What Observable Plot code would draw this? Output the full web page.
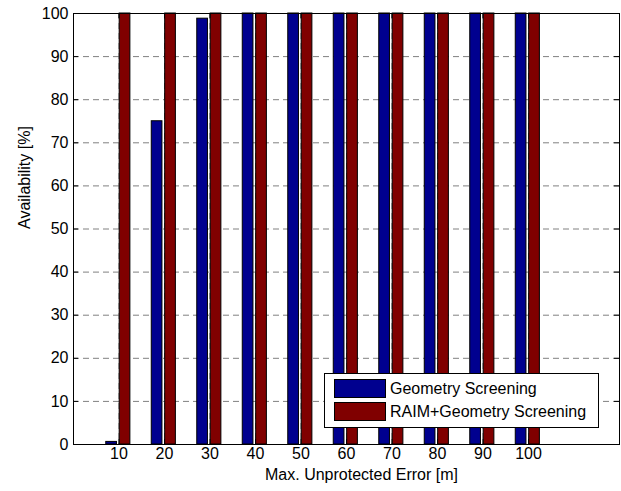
<!DOCTYPE html>
<html>
<head>
<meta charset="utf-8">
<script src="https://cdn.jsdelivr.net/npm/d3@7"></script>
<script src="https://cdn.jsdelivr.net/npm/@observablehq/plot@0.6"></script>
<style>
  html, body { margin: 0; padding: 0; background: #fff; }
  #chart { width: 621px; height: 491px; }
</style>
</head>
<body>
<div id="chart"></div>
<script>
const categories = [10, 20, 30, 40, 50, 60, 70, 80, 90, 100];
const geometryScreening = [0.6, 75, 98.8, 100, 100, 100, 100, 100, 100, 100];
const raimGeometryScreening = [100, 100, 100, 100, 100, 100, 100, 100, 100, 100];
const yTicks = [0, 10, 20, 30, 40, 50, 60, 70, 80, 90, 100];
const seriesNames = ["Geometry Screening", "RAIM+Geometry Screening"];
const seriesColors = ["#00008f", "#800000"];
const xLabel = "Max. Unprotected Error [m]";
const yLabel = "Availability [%]";

const geoData = categories.map((c, i) => ({x: c, v: geometryScreening[i]}));
const raimData = categories.map((c, i) => ({x: c, v: raimGeometryScreening[i]}));

const font = "'Liberation Sans', Arial, Helvetica, sans-serif";
const gridStyle = {stroke: "#808080", strokeWidth: 1, strokeDasharray: "6,4"};

const chart = Plot.plot({
  width: 621,
  height: 491,
  marginLeft: 73,
  marginRight: 2,
  marginTop: 13,
  marginBottom: 47,
  style: {fontFamily: font, fontSize: "16px", color: "#000", background: "#fff", overflow: "visible"},
  x: {type: "linear", domain: [0, 120], axis: null},
  y: {domain: [0, 100], axis: null},
  marks: [
    Plot.ruleY(yTicks.slice(1, -1), gridStyle),
    Plot.ruleX(categories, gridStyle),
    Plot.rectY(geoData, {x1: d => d.x - 2.8, x2: d => d.x - 0.45, y1: 0, y2: "v", fill: seriesColors[0], stroke: "#000", strokeWidth: 1}),
    Plot.rectY(raimData, {x1: d => d.x + 0.15, x2: d => d.x + 2.5, y1: 0, y2: "v", fill: seriesColors[1], stroke: "#000", strokeWidth: 1}),
    Plot.frame({stroke: "#000", strokeWidth: 1}),
    // inward ticks, bottom and top
    Plot.ruleX(categories, {y1: 0, y2: 0, insetTop: -5, stroke: "#000"}),
    Plot.ruleX(categories, {y1: 100, y2: 100, insetBottom: -5, stroke: "#000"}),
    // inward ticks, left and right
    Plot.ruleY(yTicks, {x1: 0, x2: 0, insetRight: -5, stroke: "#000"}),
    Plot.ruleY(yTicks, {x1: 120, x2: 120, insetLeft: -5, stroke: "#000"}),
    // tick labels
    Plot.text(categories, {x: d => d, frameAnchor: "bottom", dy: 14, text: d => String(d), fill: "#000"}),
    Plot.text(yTicks, {y: d => d, frameAnchor: "left", textAnchor: "end", dx: -5, text: d => String(d), fill: "#000"}),
    // axis labels
    Plot.text([xLabel], {frameAnchor: "bottom", dx: 15, dy: 35, text: d => d, fill: "#000"}),
    Plot.text([yLabel], {frameAnchor: "left", dx: -49, rotate: -90, text: d => d, fill: "#000"})
  ]
});

document.getElementById("chart").appendChild(chart);

// Legend (MATLAB-style box inside the axes)
const svg = d3.select(chart);
const lg = svg.append("g").attr("font-family", font).attr("font-size", 16).attr("text-anchor", "start");
lg.append("rect").attr("x", 324.5).attr("y", 373.5).attr("width", 274).attr("height", 54)
  .attr("fill", "#fff").attr("stroke", "#000");
seriesNames.forEach((name, i) => {
  const y0 = 379.5 + i * 23;
  lg.append("rect").attr("x", 334.5).attr("y", y0).attr("width", 51).attr("height", 18)
    .attr("fill", seriesColors[i]).attr("stroke", "#000");
  lg.append("text").attr("x", 390).attr("y", y0 + 14).attr("fill", "#000")
    .attr("text-anchor", "start").text(name);
});
</script>
</body>
</html>
